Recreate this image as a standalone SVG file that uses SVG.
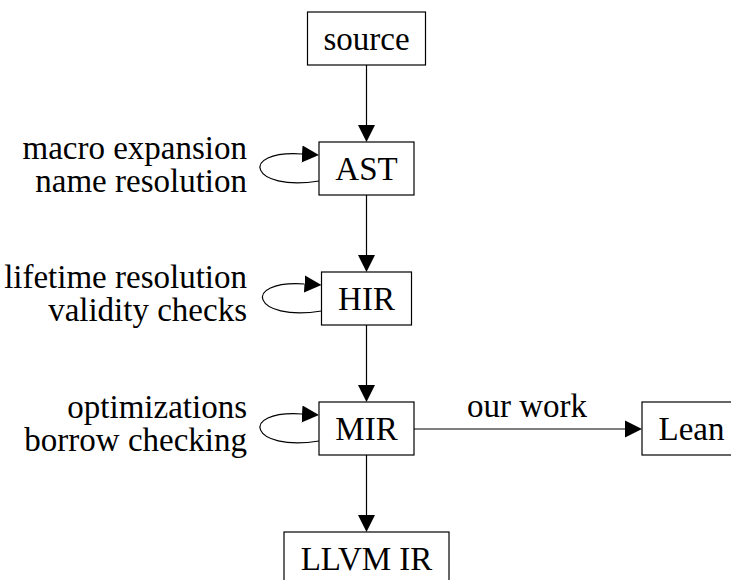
<svg xmlns="http://www.w3.org/2000/svg" width="731" height="580" viewBox="0 0 731 580">
<style>
.box{fill:#fff;stroke:#000;stroke-width:1.2}
.t{font-family:"Liberation Serif","Times New Roman",serif;font-size:33px;fill:#000}
.c{text-anchor:middle}
.r{text-anchor:end}
.e{fill:none;stroke:#000;stroke-width:1.2}
</style>
<defs>
<marker id="ah" markerUnits="userSpaceOnUse" markerWidth="18" markerHeight="18" refX="0" refY="8.5" orient="auto" viewBox="0 0 18 17">
<path d="M0,0 L17,8.5 L0,17 Z" fill="#000"/>
</marker>
</defs>
<rect width="731" height="580" fill="#fff"/>
<g id="connectors">
<path class="e" d="M366.5,65 V125" marker-end="url(#ah)"/>
<path class="e" d="M366.5,195 V255" marker-end="url(#ah)"/>
<path class="e" d="M366.5,325 V385" marker-end="url(#ah)"/>
<path class="e" d="M366.5,455 V515" marker-end="url(#ah)"/>
<path class="e" d="M414,429 H625" marker-end="url(#ah)"/>
<path class="e" d="M319,181 C250,192 238,150 302,154" marker-end="url(#ah)"/>
<path class="e" d="M321.5,311 C252.5,322 240.5,280 304.5,284" marker-end="url(#ah)"/>
<path class="e" d="M319,441 C250,452 238,410 302,414" marker-end="url(#ah)"/>
<text class="t c" x="527" y="417">our work</text>
</g>
<g id="source">
<rect class="box" x="307.5" y="12" width="118" height="53"/>
<text class="t c" x="366.5" y="50">source</text>
</g>
<g id="ast">
<rect class="box" x="319" y="142" width="95" height="53"/>
<text class="t c" x="366.5" y="180">AST</text>
<text class="t r" x="247" y="159">macro expansion</text>
<text class="t r" x="247" y="192">name resolution</text>
</g>
<g id="hir">
<rect class="box" x="321.5" y="272" width="90" height="53"/>
<text class="t c" x="366.5" y="310">HIR</text>
<text class="t r" x="247" y="288">lifetime resolution</text>
<text class="t r" x="247" y="321">validity checks</text>
</g>
<g id="mir">
<rect class="box" x="319" y="402" width="95" height="53"/>
<text class="t c" x="366.5" y="440">MIR</text>
<text class="t r" x="247" y="418">optimizations</text>
<text class="t r" x="247" y="451">borrow checking</text>
</g>
<g id="lean">
<rect class="box" x="642" y="402" width="99" height="53"/>
<text class="t c" x="691.5" y="440">Lean</text>
</g>
<g id="llvm">
<rect class="box" x="284" y="532" width="165" height="53"/>
<text class="t c" x="366.5" y="570">LLVM IR</text>
</g>
</svg>
